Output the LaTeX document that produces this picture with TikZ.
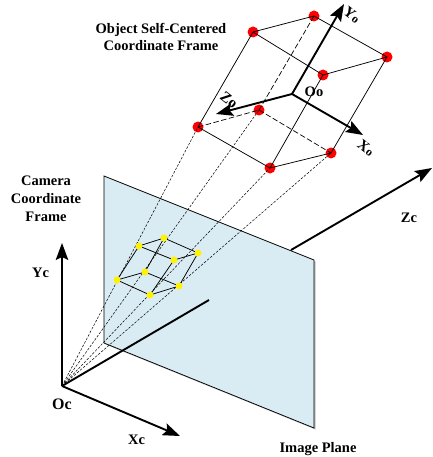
\documentclass[tikz,border=0pt]{standalone}
\usepackage{fontspec}
\setmainfont{Liberation Serif}
\usetikzlibrary{arrows.meta, positioning, shadows}
\definecolor{planeblue}{HTML}{DAECF3}
\tikzset{
    redpt/.style={circle, fill=red, minimum size=11pt, inner sep=0pt},
    yellowpt/.style={circle, fill=yellow, minimum size=7pt, inner sep=0pt},
    edge/.style={black, line width=0.75pt},
    ray/.style={black, dashed, dash pattern=on 2.5pt off 1.5pt, line width=0.5pt},
    backedge/.style={black, dashed, dash pattern=on 5.5pt off 2.5pt, line width=0.7pt},
    axisbody/.style={black, line width=1.9pt},
    axisline/.style={axisbody, -{Stealth[length=17pt, width=12.5pt, inset=3pt]}},
    lab/.style={font=\bfseries\fontsize{14.5}{17.8}\selectfont, align=center, inner sep=0pt},
    bigrot/.style={lab, font=\bfseries\fontsize{15}{17}\selectfont, rotate=-38},
}
\begin{document}
\begin{tikzpicture}[x=1pt, y=-1pt]
\useasboundingbox (0,0) rectangle (432,457);

% image plane
\coordinate (pa) at (104,176);
\coordinate (pb) at (314,260);
\coordinate (pc) at (314,428);
\coordinate (pd) at (104,343);
\fill[planeblue, drop shadow={shadow xshift=1.5pt, shadow yshift=-1.5pt, opacity=0.5}] (pa) -- (pb) -- (pc) -- (pd) -- cycle;
\draw[edge] (pa) -- (pb) -- (pc) -- (pd) -- cycle;

% camera frame
\coordinate (Oc) at (62,386);
\coordinate (Yc) at (62,243);
\coordinate (Xc) at (180,436);
\coordinate (Zin) at (209,300);
\coordinate (Zout) at (291,250);
\coordinate (Zc) at (432,168);
\draw[axisline] (Oc) -- (Yc);
\draw[axisline] (Oc) -- (Xc);
\draw[axisbody] (Oc) -- (Zin);
\draw[axisline] (Zout) -- (Zc);

% object points
\foreach \name/\x/\y in {ra/253/32, rb/314/16, rc/387/57, rd/323/75, re/198/127, rf/259/110, rg/270/168, rh/331/153}
    \node[redpt] (\name) at (\x,\y) {};

% image points
\foreach \name/\x/\y in {ya/139/246, yb/164/238, yc/198/253, yd/174/260, ye/117/280, yf/145/272, yg/150/295, yh/179/286}
    \coordinate (\name) at (\x,\y);

% object box
\foreach \a/\b in {ra/rb, rb/rc, rc/rd, rd/ra, ra/re, rd/rg, rc/rh, re/rg, rg/rh}
    \draw[edge] (\a.center) -- (\b.center);
\foreach \a/\b in {rb/rf, re/rf, rf/rh}
    \draw[backedge] (\a.center) -- (\b.center);

% projection rays
\foreach \b in {re, rf, rg, rh}
    \draw[ray] (Oc) -- (\b.center);

% image box
\foreach \a/\b in {ya/yb, yb/yc, yc/yd, yd/ya, ya/ye, yb/yf, yd/yg, yc/yh, ye/yf, yf/yh, ye/yg, yg/yh}
    \draw[edge] (\a) -- (\b);
\foreach \name in {ya, yb, yc, yd, ye, yf, yg, yh}
    \node[yellowpt] (\name dot) at (\name) {};

% object frame
\coordinate (Oo) at (292,94);
\coordinate (Yo) at (344,4);
\coordinate (Zo) at (216,114);
\coordinate (Xo) at (363,135);
\draw[axisline] (Oo) -- (Yo);
\draw[axisline] (Oo) -- (Zo);
\draw[axisline] (Oo) -- (Xo);

% labels
\node[lab] (objlab) at (161,37) {Object Self-Centered\\Coordinate Frame};
\node[lab] (camlab) at (46,199) {Camera\\Coordinate\\Frame};
\node[lab] (yclab) at (40.5,273) {Yc};
\node[lab, font=\bfseries\fontsize{16}{18}\selectfont] (oclab) at (62,404) {Oc};
\node[lab] (xclab) at (136.5,440) {Xc};
\node[lab] (zclab) at (409,218) {Zc};
\node[lab] (planelab) at (318,449) {Image Plane};
\node[lab] (oolab) at (314,92) {Oo};
\node[bigrot] (zolab) at (229,100) {Zo};
\node[bigrot] (xolab) at (366,148) {X{\fontsize{12}{12}\selectfont o}};
\node[bigrot] (yolab) at (352,15) {Y{\fontsize{12}{12}\selectfont o}};

\end{tikzpicture}
\end{document}
